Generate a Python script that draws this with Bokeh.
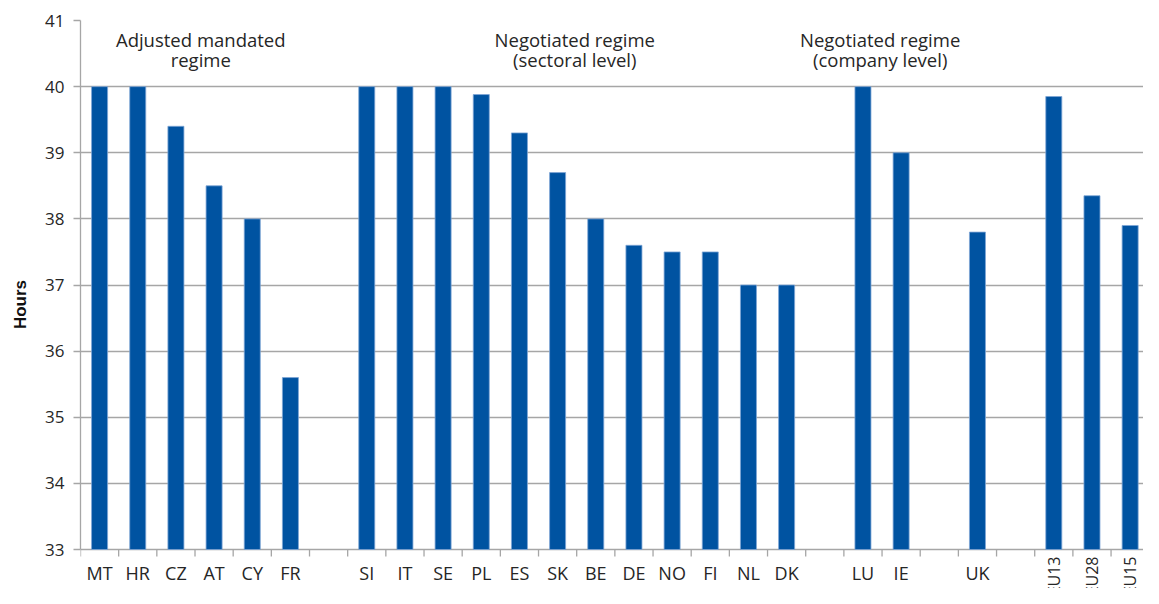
import math
from bokeh.plotting import figure
from bokeh.models import ColumnDataSource, Range1d, FixedTicker
from bokeh.core.properties import value
from bokeh.embed import file_html
from bokeh.resources import INLINE

# Slots along the x axis; None marks an empty slot between groups
slot_labels = ["MT", "HR", "CZ", "AT", "CY", "FR", None,
               "SI", "IT", "SE", "PL", "ES", "SK", "BE", "DE", "NO", "FI", "NL", "DK", None,
               "LU", "IE", None, "UK", None,
               "EU13", "EU28", "EU15"]
slot_hours = [40.0, 40.0, 39.4, 38.5, 38.0, 35.6, None,
              40.0, 40.0, 40.0, 39.88, 39.3, 38.7, 38.0, 37.6, 37.5, 37.5, 37.0, 37.0, None,
              40.0, 39.0, None, 37.8, None,
              39.85, 38.35, 37.9]
rotated_labels = ["EU13", "EU28", "EU15"]

group_line1 = ["Adjusted mandated", "Negotiated regime", "Negotiated regime"]
group_line2 = ["regime", "(sectoral level)", "(company level)"]
group_x = [2.65, 12.45, 20.45]

y_ticks = [33, 34, 35, 36, 37, 38, 39, 40, 41]

FONT = "Open Sans"
TXT = "#262626"
GRID = "#a6a6a6"
BLUE = "#0053A1"

W, H = 1143, 588
TOP_PX = 20            # frame top (value 41)
AXIS_PX = 549          # pixel row of value 33
Y0, Y1 = y_ticks[0], y_ticks[-1]
PX = (AXIS_PX - TOP_PX) / (Y1 - Y0)   # pixels per hour


def below(px):
    """data y that lies px pixels below the value-33 axis line"""
    return Y0 - px / PX


def from_top(px):
    return Y1 - (px - TOP_PX) / PX


xs, tops, labs = [], [], []
for i, (lab, h) in enumerate(zip(slot_labels, slot_hours)):
    if lab is not None:
        xs.append(i)
        tops.append(h)
        labs.append(lab)

bars = ColumnDataSource(dict(x=xs, top=tops))
flat_x = [x for x, l in zip(xs, labs) if l not in rotated_labels]
flat_l = [l for l in labs if l not in rotated_labels]
rot_x = [x for x, l in zip(xs, labs) if l in rotated_labels]
rot_l = [l for l in labs if l in rotated_labels]

p = figure(width=W, height=H, output_backend="svg", toolbar_location=None,
           x_range=Range1d(-0.5, 27.35), y_range=Range1d(below(H - AXIS_PX), Y1),
           x_axis_location=None,
           min_border_left=80, min_border_right=0, min_border_top=TOP_PX, min_border_bottom=0)
p.outline_line_color = None

p.vbar(x="x", top="top", bottom=Y0, width=0.42, source=bars,
       fill_color=BLUE, line_color="#7fa6d6", line_width=0.8)

# y axis
p.yaxis.ticker = FixedTicker(ticks=y_ticks)
p.yaxis.bounds = (Y0, Y1)
p.yaxis.axis_line_color = GRID
p.yaxis.axis_line_width = 1.3
p.yaxis.major_tick_line_color = GRID
p.yaxis.major_tick_line_width = 1.3
p.yaxis.major_tick_out = 7
p.yaxis.major_tick_in = 0
p.yaxis.minor_tick_line_color = None
p.yaxis.major_label_text_font = FONT
p.yaxis.major_label_text_font_size = "17px"
p.yaxis.major_label_text_color = TXT
p.yaxis.major_label_standoff = 9
p.yaxis.axis_label = "Hours"
p.yaxis.axis_label_text_font = "Liberation Sans"
p.yaxis.axis_label_text_font_style = "bold"
p.yaxis.axis_label_text_font_size = "17px"
p.yaxis.axis_label_text_color = "#111111"
p.yaxis.axis_label_standoff = 12

p.ygrid.ticker = FixedTicker(ticks=y_ticks)
p.ygrid.grid_line_color = GRID
p.ygrid.grid_line_width = 1.3
p.xgrid.grid_line_color = None

# category boundary tick marks hanging below the 33 line
bounds = [i - 0.5 for i in range(len(slot_labels) + 1)]
p.segment(x0=bounds, x1=bounds, y0=[Y0] * len(bounds), y1=[below(7)] * len(bounds),
          line_color=GRID, line_width=1.3)

# category labels
p.text(x=flat_x, y=[below(23.3)] * len(flat_x), text=flat_l,
       text_align="center", text_baseline="alphabetic",
       text_font=value(FONT), text_font_size="18px", text_color=TXT)
p.text(x=rot_x, y=[below(7)] * len(rot_x), text=rot_l, angle=math.pi / 2,
       text_align="right", text_baseline="middle",
       text_font=value(FONT), text_font_size="16px", text_color=TXT)

# group annotations
ann = ColumnDataSource(dict(x=group_x, l1=group_line1, l2=group_line2,
                            y1=[from_top(39.0)] * 3, y2=[from_top(58.7)] * 3))
for ycol, tcol in (("y1", "l1"), ("y2", "l2")):
    p.text(x="x", y=ycol, text=tcol, source=ann, text_align="center",
           text_baseline="alphabetic", text_font=value(FONT),
           text_font_size="18.5px", text_color=TXT)

open("out.html", "w").write(file_html(p, INLINE))
